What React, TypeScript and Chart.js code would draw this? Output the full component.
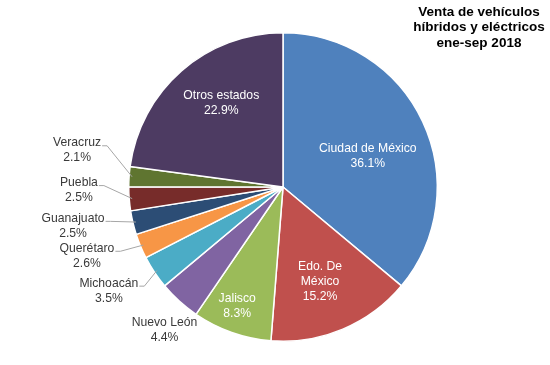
import React, { useEffect, useRef } from "react";
import { Chart, registerables } from "chart.js";

Chart.register(...registerables);

const categories = [
  "Ciudad de México",
  "Edo. De México",
  "Jalisco",
  "Nuevo León",
  "Michoacán",
  "Querétaro",
  "Guanajuato",
  "Puebla",
  "Veracruz",
  "Otros estados",
];
const shares = [36.1, 15.2, 8.3, 4.4, 3.5, 2.6, 2.5, 2.5, 2.1, 22.9];
const labelLines = [
  ["Ciudad de México"],
  ["Edo. De", "México"],
  ["Jalisco"],
  ["Nuevo León"],
  ["Michoacán"],
  ["Querétaro"],
  ["Guanajuato"],
  ["Puebla"],
  ["Veracruz"],
  ["Otros estados"],
];
const sliceColors = [
  "#4F81BD",
  "#C0504D",
  "#9BBB59",
  "#8064A2",
  "#4BACC6",
  "#F79646",
  "#2C4D75",
  "#772C2A",
  "#5F7530",
  "#4D3B62",
];
const titleLines = ["Venta de vehículos", "híbridos y eléctricos", "ene-sep 2018"];

// label placement: block centre relative to pie centre, in radius units
const labelLayout = [
  { fx: 0.55, fy: -0.2, inside: true, leader: false },
  { fx: 0.24, fy: 0.615, inside: true, leader: false },
  { fx: -0.297, fy: 0.77, inside: true, leader: false },
  { fx: -0.768, fy: 0.93, inside: false, leader: false },
  { fx: -1.129, fy: 0.672, inside: false, leader: true },
  { fx: -1.271, fy: 0.446, inside: false, leader: true },
  { fx: -1.361, fy: 0.252, inside: false, leader: true },
  { fx: -1.323, fy: 0.02, inside: false, leader: true },
  { fx: -1.335, fy: -0.238, inside: false, leader: true },
  { fx: -0.4, fy: -0.545, inside: true, leader: false },
];

const FONT = '12.2px "Liberation Sans", Arial, sans-serif';
const LINE_H = 15;

const labelPlugin = {
  id: "sliceLabels",
  afterDraw(chart: any) {
    const ctx = chart.ctx;
    const meta = chart.getDatasetMeta(0);
    ctx.save();
    ctx.font = FONT;
    ctx.textBaseline = "middle";
    ctx.textAlign = "center";
    meta.data.forEach((arc: any, i: number) => {
      const { x, y, outerRadius, startAngle, endAngle } = arc.getProps(
        ["x", "y", "outerRadius", "startAngle", "endAngle"],
        true
      );
      const lay = labelLayout[i];
      const lines = [...labelLines[i], shares[i].toFixed(1) + "%"];
      const cx = x + lay.fx * outerRadius;
      const cy = y + lay.fy * outerRadius;
      const top = cy - ((lines.length - 1) * LINE_H) / 2;
      ctx.fillStyle = lay.inside ? "#FFFFFF" : "#3A3A3A";
      lines.forEach((t, k) => ctx.fillText(t, cx, top + k * LINE_H));
      if (lay.leader) {
        const mid = (startAngle + endAngle) / 2;
        const ax = x + Math.cos(mid) * (outerRadius - 3);
        const ay = y + Math.sin(mid) * (outerRadius - 3);
        const w = ctx.measureText(lines[0]).width;
        const sx = cx + w / 2 + 1;
        const sy = top + 3;
        ctx.strokeStyle = "#A6A6A6";
        ctx.lineWidth = 1;
        ctx.beginPath();
        ctx.moveTo(sx, sy);
        ctx.lineTo(sx + 5, sy);
        ctx.lineTo(ax, ay);
        ctx.stroke();
      }
    });
    // title
    ctx.fillStyle = "#000000";
    ctx.font = 'bold 13.5px "Liberation Sans", Arial, sans-serif';
    titleLines.forEach((t, k) => ctx.fillText(t, 479, 12 + k * 15.5));
    ctx.restore();
  },
};

export default function App() {
  const ref = useRef<HTMLCanvasElement | null>(null);
  useEffect(() => {
    if (!ref.current) return;
    const chart = new Chart(ref.current, {
      type: "pie",
      data: {
        labels: categories,
        datasets: [
          {
            data: shares,
            backgroundColor: sliceColors,
            borderColor: "#FFFFFF",
            borderWidth: 1.5,
          },
        ],
      },
      options: {
        responsive: false,
        animation: false,
        layout: { padding: { left: 128, right: 112, top: 32, bottom: 23 } },
        plugins: {
          legend: { display: false },
          tooltip: { enabled: false },
          title: { display: false },
        },
      },
      plugins: [labelPlugin],
    });
    return () => chart.destroy();
  }, []);
  return (
    <div style={{ position: "absolute", left: 0, top: 0, width: 550, height: 365, background: "#fff" }}>
      <canvas ref={ref} width={550} height={365} />
    </div>
  );
}
